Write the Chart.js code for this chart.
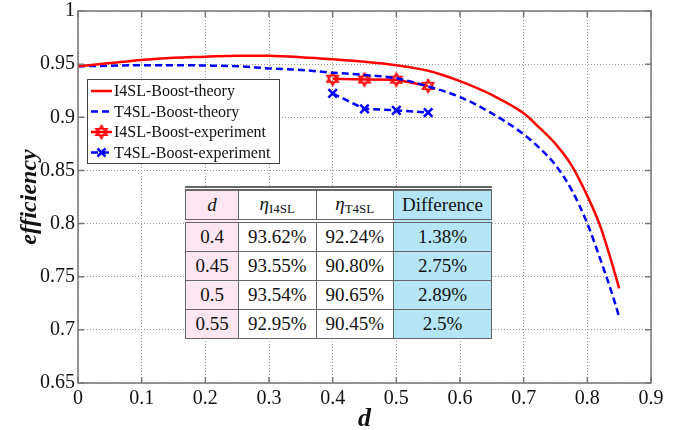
<!DOCTYPE html>
<html>
<head>
<meta charset="utf-8">
<script src="https://cdn.jsdelivr.net/npm/chart.js@4.4.1/dist/chart.umd.min.js"></script>
<style>
  html, body { margin: 0; padding: 0; background: #fff; }
  #wrap { position: relative; width: 688px; height: 430px; }
  #tbl {
    position: absolute; left: 185px; top: 186px; width: 307px;
    border-collapse: collapse; background: #fff;
    font-family: "Liberation Serif", "Times New Roman", serif; font-size: 19px; color: #111;
    border-top: 5px double #666;
  }
  #tbl td { border: 1.5px solid #666; text-align: center; padding: 0; height: 28px; }
  #tbl tr.head td { border-bottom: 4px double #666; }
  #tbl td.c0 { background: #fce6f1; width: 52px; }
  #tbl td.c3 { background: #b5e6f8; width: 97px; }
  #tbl sub { font-size: 13px; vertical-align: -3px; }
</style>
</head>
<body>
<div id="wrap">
  <canvas id="myChart" width="688" height="430"></canvas>
  <table id="tbl"></table>
</div>
<script>
let dTheory = [0, 0.05, 0.1, 0.15, 0.2, 0.25, 0.3, 0.35, 0.4, 0.45, 0.5, 0.55, 0.6, 0.65, 0.7, 0.725, 0.75, 0.775, 0.8, 0.82, 0.84, 0.85];
let i4slTheory = [0.948, 0.951, 0.954, 0.956, 0.957, 0.958, 0.9578, 0.9565, 0.9546, 0.9523, 0.949, 0.9438, 0.934, 0.921, 0.9037, 0.890, 0.875, 0.855, 0.826, 0.798, 0.760, 0.739];
let t4slTheory = [0.948, 0.9485, 0.949, 0.949, 0.9487, 0.948, 0.946, 0.9445, 0.942, 0.9398, 0.9367, 0.929, 0.919, 0.9037, 0.884, 0.871, 0.855, 0.832, 0.80, 0.767, 0.732, 0.712];

let dExp = [0.4, 0.45, 0.5, 0.55];
let i4slExp = [0.9362, 0.9355, 0.9354, 0.9295];
let t4slExp = [0.9224, 0.9080, 0.9065, 0.9045];

let xTicks = [0, 0.1, 0.2, 0.3, 0.4, 0.5, 0.6, 0.7, 0.8, 0.9];
let yTicks = [0.65, 0.7, 0.75, 0.8, 0.85, 0.9, 0.95, 1];

let tableHead = ['d', 'I4SL', 'T4SL', 'Difference'];
let tableD = ['0.4', '0.45', '0.5', '0.55'];
let tableI4SL = ['93.62%', '93.55%', '93.54%', '92.95%'];
let tableT4SL = ['92.24%', '90.80%', '90.65%', '90.45%'];
let tableDiff = ['1.38%', '2.75%', '2.89%', '2.5%'];

// table
let tbl = document.getElementById('tbl');
let html = '<tr class="head"><td class="c0"><i>' + tableHead[0] + '</i></td>' +
  '<td><i>η</i><sub>' + tableHead[1] + '</sub></td>' +
  '<td><i>η</i><sub>' + tableHead[2] + '</sub></td>' +
  '<td class="c3">' + tableHead[3] + '</td></tr>';
for (let i = 0; i < tableD.length; i++) {
  html += '<tr><td class="c0">' + tableD[i] + '</td><td>' + tableI4SL[i] + '</td><td>' +
    tableT4SL[i] + '</td><td class="c3">' + tableDiff[i] + '</td></tr>';
}
tbl.innerHTML = html;

function pts(xs, ys) {
  return xs.map((x, i) => ({x: x, y: ys[i]}));
}

// hexagram marker
let hex = document.createElement('canvas');
hex.width = 16; hex.height = 16;
(function () {
  let c = hex.getContext('2d');
  c.strokeStyle = '#ff0000';
  c.lineWidth = 1.6;
  let r = 6.5;
  for (let k = 0; k < 2; k++) {
    c.beginPath();
    for (let j = 0; j < 3; j++) {
      let a = -Math.PI / 2 + k * Math.PI + j * 2 * Math.PI / 3;
      let px = 8 + r * Math.cos(a), py = 8 + r * Math.sin(a);
      if (j === 0) c.moveTo(px, py); else c.lineTo(px, py);
    }
    c.closePath();
    c.stroke();
  }
})();

let labels = ['I4SL-Boost-theory', 'T4SL-Boost-theory', 'I4SL-Boost-experiment', 'T4SL-Boost-experiment'];
let serif = '"Liberation Serif", "Times New Roman", serif';

let datasets = [
  {
    label: labels[0],
    data: pts(dTheory, i4slTheory),
    borderColor: '#ff0000',
    borderWidth: 2.5,
    pointRadius: 0,
    cubicInterpolationMode: 'monotone'
  },
  {
    label: labels[1],
    data: pts(dTheory, t4slTheory),
    borderColor: '#0000ff',
    borderWidth: 2.5,
    borderDash: [7, 4],
    pointRadius: 0,
    cubicInterpolationMode: 'monotone'
  },
  {
    label: labels[2],
    data: pts(dExp, i4slExp),
    borderColor: '#ff0000',
    borderWidth: 2.5,
    pointStyle: hex,
    pointRadius: 6
  },
  {
    label: labels[3],
    data: pts(dExp, t4slExp),
    borderColor: '#0000ff',
    backgroundColor: '#0000ff',
    borderWidth: 2.5,
    borderDash: [7, 4],
    pointStyle: 'crossRot',
    pointRadius: 6,
    pointBorderWidth: 2.5
  }
];

let framePlugin = {
  id: 'frame',
  afterDraw(chart) {
    let c = chart.ctx, a = chart.chartArea;
    let xs = chart.scales.x, ys = chart.scales.y;
    c.save();
    c.strokeStyle = '#777';
    c.lineWidth = 1.5;
    c.strokeRect(a.left, a.top, a.right - a.left, a.bottom - a.top);
    c.beginPath();
    xTicks.forEach(v => {
      let px = xs.getPixelForValue(v);
      c.moveTo(px, a.bottom); c.lineTo(px, a.bottom - 6);
      c.moveTo(px, a.top); c.lineTo(px, a.top + 6);
    });
    yTicks.forEach(v => {
      let py = ys.getPixelForValue(v);
      c.moveTo(a.left, py); c.lineTo(a.left + 6, py);
      c.moveTo(a.right, py); c.lineTo(a.right - 6, py);
    });
    c.stroke();

    // legend
    let bx = 87, by = 79, bw = 192, bh = 84;
    c.fillStyle = '#fff';
    c.fillRect(bx, by, bw, bh);
    c.strokeStyle = '#444';
    c.lineWidth = 1;
    c.strokeRect(bx + 0.5, by + 0.5, bw, bh);
    let rows = [91, 111.5, 132, 152.5];
    chart.data.datasets.forEach((ds, i) => {
      let y = rows[i];
      c.strokeStyle = ds.borderColor;
      c.lineWidth = 2.5;
      c.setLineDash(ds.borderDash || []);
      c.beginPath();
      c.moveTo(91, y); c.lineTo(112, y);
      c.stroke();
      c.setLineDash([]);
      if (i === 2) c.drawImage(hex, 101.5 - 8, y - 8);
      if (i === 3) {
        c.beginPath();
        c.moveTo(97.5, y - 4); c.lineTo(105.5, y + 4);
        c.moveTo(105.5, y - 4); c.lineTo(97.5, y + 4);
        c.stroke();
      }
      c.fillStyle = '#111';
      c.font = '16px ' + serif;
      c.textBaseline = 'middle';
      c.fillText(ds.label, 114, y + 1);
    });
    c.restore();
  }
};

let ctx = document.getElementById('myChart').getContext('2d');
let myChart = new Chart(ctx, {
  type: 'line',
  data: { datasets: datasets },
  plugins: [framePlugin],
  options: {
    responsive: false,
    animation: false,
    layout: { padding: { top: 11, right: 37, left: 0, bottom: 0 } },
    plugins: { legend: { display: false }, tooltip: { enabled: false } },
    scales: {
      x: {
        type: 'linear',
        min: 0, max: 0.9,
        afterBuildTicks: s => { s.ticks = xTicks.map(v => ({value: v})); },
        afterFit: s => { s.height = 47; s.paddingLeft = 0; s.paddingRight = 0; },
        grid: { color: '#999', drawTicks: false },
        border: { display: false, dash: [1, 2] },
        ticks: { color: '#111', padding: 4, callback: v => String(v),
          font: { family: serif, size: 20 } },
        title: { display: true, text: 'd', color: '#111', padding: { top: 0, bottom: -5 },
          font: { family: serif, size: 26, style: 'italic', weight: 'bold' } }
      },
      y: {
        type: 'linear',
        min: 0.65, max: 1,
        afterBuildTicks: s => { s.ticks = yTicks.map(v => ({value: v})); },
        afterFit: s => { s.width = 78; s.paddingTop = 0; s.paddingBottom = 0; },
        grid: { color: '#999', drawTicks: false },
        border: { display: false, dash: [1, 2] },
        ticks: { color: '#111', padding: 3, callback: v => String(v),
          font: { family: serif, size: 20 } },
        title: { display: true, text: 'efficiency', color: '#111', padding: { top: 15, bottom: 0 },
          font: { family: serif, size: 24, style: 'italic', weight: 'bold' } }
      }
    }
  }
});
</script>
</body>
</html>
